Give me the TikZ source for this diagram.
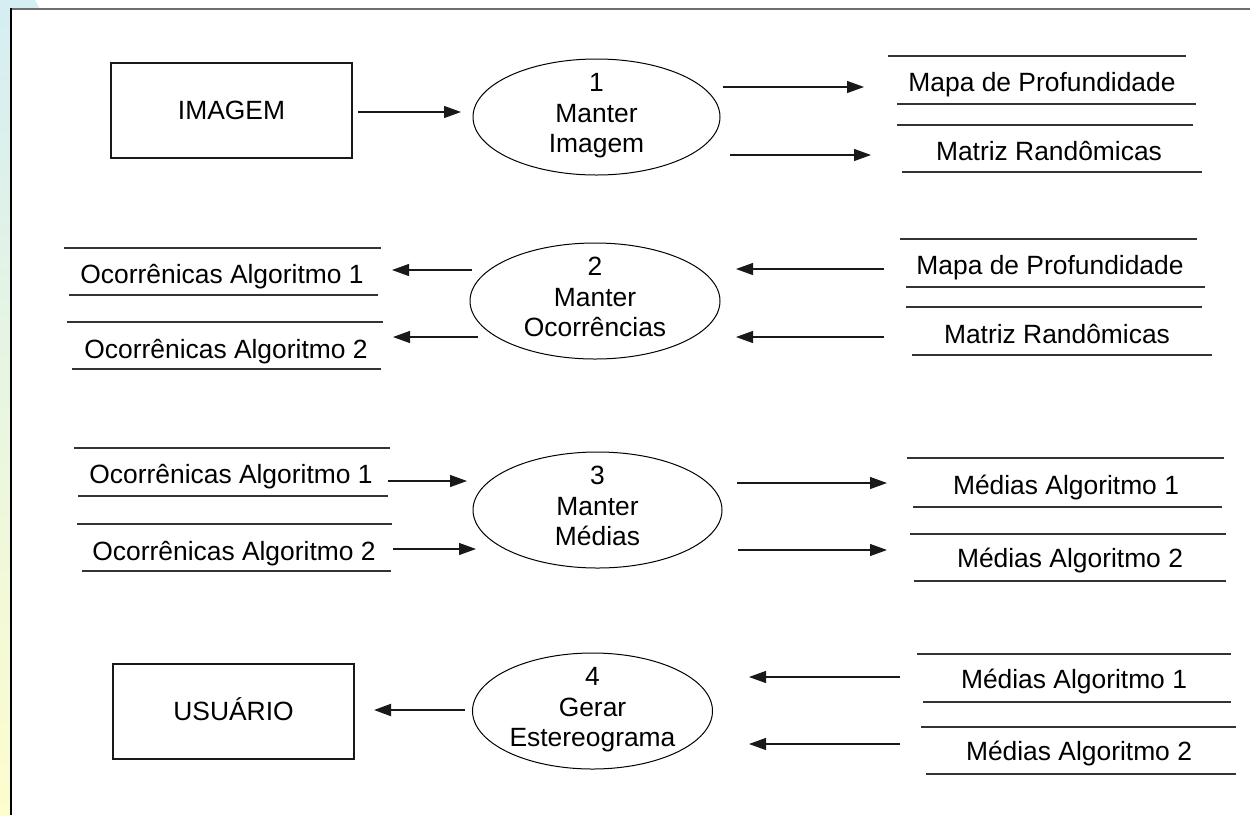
\documentclass[tikz,border=0pt]{standalone}
\usepackage{fontspec}
\setmainfont{Liberation Sans}
\usetikzlibrary{arrows.meta,shapes.geometric}
\definecolor{stripblue}{HTML}{D5EEF3}
\definecolor{stripmid}{HTML}{E9F6E2}
\definecolor{stripyellow}{HTML}{FDFDCD}
\definecolor{framegray}{HTML}{6E6E6E}
\begin{document}
\begin{tikzpicture}[x=1pt,y=-1pt,
  txt/.style={inner sep=0pt, text height=18.9pt, text depth=0pt,
    font=\fontsize{26.4}{30.4}\selectfont},
  entity/.style={txt, draw=black!90, line width=1.4pt},
  process/.style={draw=black, line width=1pt, ellipse, inner sep=0pt},
  storeline/.style={draw=black!80, line width=1.3pt},
  flow/.style={draw=black!90, line width=1.2pt, -{Triangle[length=17pt,width=12pt]}},
  boldflow/.style={flow, line width=2pt},
]
\useasboundingbox (0,0) rectangle (1250,815);

% page background: coloured margin strip and frame
\fill[white] (0,0) rectangle (1250,815);
\shade[top color=stripblue, middle color=stripmid, bottom color=stripyellow]
  (0,0) rectangle (11,815);
\fill[stripblue] (0,0) -- (35,0) -- (40,9) -- (0,9) -- cycle;
\draw[framegray, line width=2pt] (11,9) -- (1250,9);
\draw[black, line width=2pt] (11,8) -- (11,815);

% ---------------- process 1 ----------------
\node[entity, minimum width=241pt, minimum height=95pt] (imagem) at (231.5,110.5) {IMAGEM};
\node[process, minimum width=247pt, minimum height=116pt] (p1) at (596.5,117) {};
\node[txt] (p1n) at (596.5,82.5) {1};
\node[txt] (p1a) at (596.5,113) {Manter};
\node[txt] (p1b) at (596.5,143.5) {Imagem};

\node[txt] (s1a) at (1042,82) {Mapa de Profundidade};
\draw[storeline] (888,56) -- (1186,56);
\draw[storeline] (897,104) -- (1196,104);
\node[txt] (s1b) at (1049,151) {Matriz Randômicas};
\draw[storeline] (897,125) -- (1193,125);
\draw[storeline] (902,172) -- (1202,172);

\coordinate (f1s) at (358,112);  \coordinate (f1e) at (461,112);
\coordinate (f2s) at (723,87);   \coordinate (f2e) at (864,87);
\coordinate (f3s) at (730,155);  \coordinate (f3e) at (871,155);
\draw[flow] (f1s) -- (f1e);
\draw[flow] (f2s) -- (f2e);
\draw[flow] (f3s) -- (f3e);

% ---------------- process 2 ----------------
\node[process, minimum width=250pt, minimum height=116pt] (p2) at (595,301) {};
\node[txt] (p2n) at (595,266.5) {2};
\node[txt] (p2a) at (595,297) {Manter};
\node[txt] (p2b) at (595,327.5) {Ocorrências};

\node[txt] (s2a) at (222,274) {Ocorrênicas Algoritmo 1};
\draw[storeline] (64,248) -- (381,248);
\draw[storeline] (69,295) -- (378,295);
\node[txt] (s2b) at (226,349) {Ocorrênicas Algoritmo 2};
\draw[storeline] (67,322) -- (383,322);
\draw[storeline] (72,369) -- (381,369);

\node[txt] (s2c) at (1050,265) {Mapa de Profundidade};
\draw[storeline] (900,239) -- (1197,239);
\draw[storeline] (906,287) -- (1205,287);
\node[txt] (s2d) at (1057,334) {Matriz Randômicas};
\draw[storeline] (906,307) -- (1202,307);
\draw[storeline] (912,355) -- (1212,355);

\coordinate (g1s) at (472,270);  \coordinate (g1e) at (392,270);
\coordinate (g2s) at (478,337);  \coordinate (g2e) at (393,337);
\coordinate (g3s) at (884,269);  \coordinate (g3e) at (736,269);
\coordinate (g4s) at (884,337);  \coordinate (g4e) at (736,337);
\draw[flow] (g1s) -- (g1e);
\draw[flow] (g2s) -- (g2e);
\draw[flow] (g3s) -- (g3e);
\draw[flow] (g4s) -- (g4e);

% ---------------- process 3 ----------------
\node[process, minimum width=249pt, minimum height=116pt] (p3) at (597.5,510) {};
\node[txt] (p3n) at (597.5,475.5) {3};
\node[txt] (p3a) at (597.5,506) {Manter};
\node[txt] (p3b) at (597.5,536.5) {Médias};

\node[txt] (s3a) at (231,474) {Ocorrênicas Algoritmo 1};
\draw[storeline] (74,448) -- (390,448);
\draw[storeline] (78,496) -- (388,496);
\node[txt] (s3b) at (234,551) {Ocorrênicas Algoritmo 2};
\draw[storeline] (77,524) -- (392,524);
\draw[storeline] (82,571) -- (391,571);

\node[txt] (s3c) at (1066,485) {Médias Algoritmo 1};
\draw[storeline] (907,458) -- (1224,458);
\draw[storeline] (913,507) -- (1222,507);
\node[txt] (s3d) at (1070,558) {Médias Algoritmo 2};
\draw[storeline] (910,534) -- (1226,534);
\draw[storeline] (914,581) -- (1226,581);

\coordinate (h1s) at (388,481);  \coordinate (h1e) at (467,481);
\coordinate (h2s) at (393,549);  \coordinate (h2e) at (476,549);
\coordinate (h3s) at (737,483);  \coordinate (h3e) at (887,483);
\coordinate (h4s) at (738,550);  \coordinate (h4e) at (887,550);
\draw[flow] (h1s) -- (h1e);
\draw[flow] (h2s) -- (h2e);
\draw[flow] (h3s) -- (h3e);
\draw[flow] (h4s) -- (h4e);

% ---------------- process 4 ----------------
\node[entity, minimum width=241pt, minimum height=95pt] (usuario) at (233.5,711.5) {USUÁRIO};
\node[process, minimum width=240pt, minimum height=116pt] (p4) at (592.5,711) {};
\node[txt] (p4n) at (592.5,676.5) {4};
\node[txt] (p4a) at (592.5,707) {Gerar};
\node[txt] (p4b) at (592.5,737.5) {Estereograma};

\node[txt] (s4a) at (1074,679) {Médias Algoritmo 1};
\draw[storeline] (917,654) -- (1231,654);
\draw[storeline] (923,702) -- (1231,702);
\node[txt] (s4b) at (1079,751) {Médias Algoritmo 2};
\draw[storeline] (921,727) -- (1236,727);
\draw[storeline] (926,774) -- (1236,774);

\coordinate (k1s) at (465,710);  \coordinate (k1e) at (374,710);
\coordinate (k2s) at (900,677);  \coordinate (k2e) at (749,677);
\coordinate (k3s) at (900,744);  \coordinate (k3e) at (749,744);
\draw[boldflow] (k1s) -- (k1e);
\draw[flow] (k2s) -- (k2e);
\draw[flow] (k3s) -- (k3e);
\end{tikzpicture}
\end{document}
